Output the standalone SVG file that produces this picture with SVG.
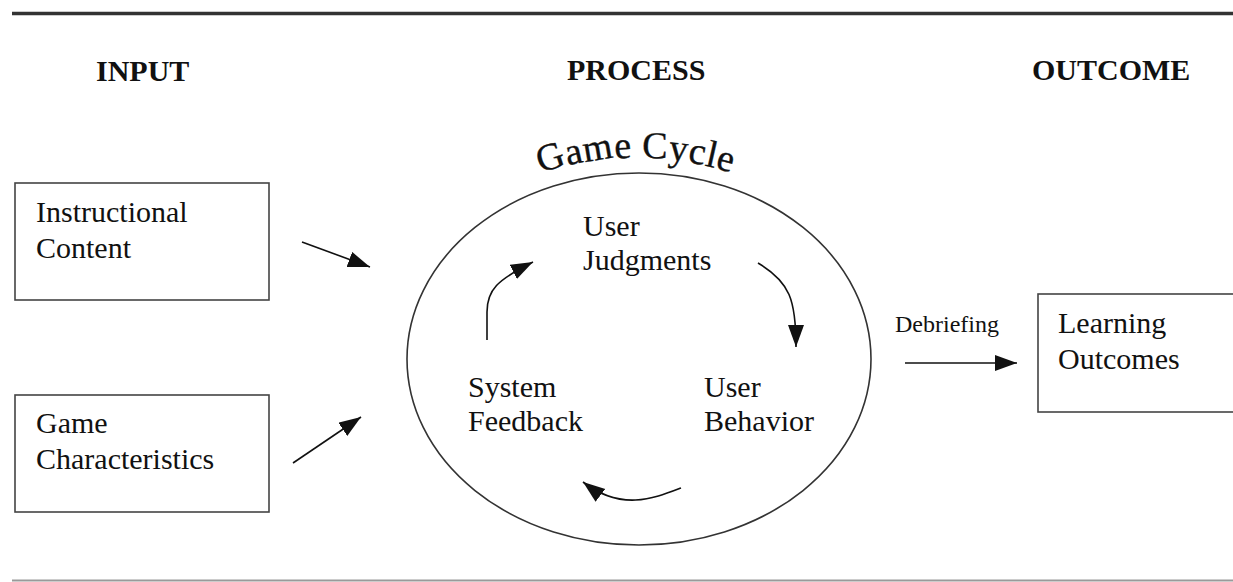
<svg xmlns="http://www.w3.org/2000/svg" width="1233" height="582" viewBox="0 0 1233 582">
  <style>
    .hdr { font-family: "Liberation Serif", "Times New Roman", serif; font-size: 30px; font-weight: bold; fill: #111; }
    .lbl { font-family: "Liberation Serif", "Times New Roman", serif; font-size: 30px; fill: #111; }
    .small { font-family: "Liberation Serif", "Times New Roman", serif; font-size: 24px; fill: #111; }
    .title { font-family: "Liberation Serif", "Times New Roman", serif; font-size: 38px; fill: #111; stroke: #111; stroke-width: 0.35; }
    .box { fill: #fff; stroke: #444; stroke-width: 1.6; }
    .conn { fill: none; stroke: #111; stroke-width: 1.6; marker-end: url(#arrow); }
  </style>
  <defs>
    <marker id="arrow" markerUnits="userSpaceOnUse" markerWidth="24" markerHeight="18" refX="22" refY="8" orient="auto">
      <path d="M0,0 L22,8 L0,16 z" fill="#111"/>
    </marker>
  </defs>
  <rect width="1233" height="582" fill="#fff"/>

  <line x1="12" y1="13.5" x2="1233" y2="13.5" stroke="#333" stroke-width="3.5"/>
  <line x1="12" y1="580.5" x2="1233" y2="580.5" stroke="#9a9a9a" stroke-width="2"/>

  <g id="headers">
    <text class="hdr" x="96" y="81">INPUT</text>
    <text class="hdr" x="567" y="80">PROCESS</text>
    <text class="hdr" x="1032" y="80">OUTCOME</text>
  </g>

  <g id="instructional-content">
    <rect class="box" x="15" y="183" width="254" height="117"/>
    <text class="lbl" x="36" y="222">Instructional</text>
    <text class="lbl" x="36" y="258">Content</text>
  </g>

  <g id="game-characteristics">
    <rect class="box" x="15" y="395" width="254" height="117"/>
    <text class="lbl" x="36" y="433">Game</text>
    <text class="lbl" x="36" y="469">Characteristics</text>
  </g>

  <g id="game-cycle">
    <ellipse cx="639" cy="359" rx="232" ry="186" fill="#fff" stroke="#333" stroke-width="1.6"/>
    <text class="title" x="540.7 567.8 584.8 614.9 632.2 642.0 667.9 687.2 704.2 714.7" y="173.1 165.6 162.3 158.7 158.0 158.1 159.7 162.3 165.6 168.2" rotate="-18.0 -12.8 -9.6 -3.9 -0.7 1.1 5.9 9.6 12.8 14.8">Game Cycle</text>
  </g>

  <g id="user-judgments">
    <text class="lbl" x="583" y="236">User</text>
    <text class="lbl" x="583" y="270">Judgments</text>
  </g>

  <g id="user-behavior">
    <text class="lbl" x="704" y="397">User</text>
    <text class="lbl" x="704" y="431">Behavior</text>
  </g>

  <g id="system-feedback">
    <text class="lbl" x="468" y="397">System</text>
    <text class="lbl" x="468" y="431">Feedback</text>
  </g>

  <g id="learning-outcomes">
    <rect class="box" x="1038" y="294" width="200" height="118"/>
    <text class="lbl" x="1058" y="333">Learning</text>
    <text class="lbl" x="1058" y="369">Outcomes</text>
  </g>

  <g id="connectors">
    <line class="conn" x1="302" y1="242" x2="370" y2="267"/>
    <line class="conn" x1="293" y1="463" x2="361" y2="417"/>
    <path class="conn" d="M487,340 L487,312 C487,290 497,280 533,262"/>
    <path class="conn" d="M758,263 C790,282 796,300 796,347"/>
    <path class="conn" d="M681,488 C655,498 622,512 583,482"/>
    <line class="conn" x1="905" y1="363" x2="1017" y2="363"/>
    <text class="small" x="895" y="332">Debriefing</text>
  </g>
</svg>
